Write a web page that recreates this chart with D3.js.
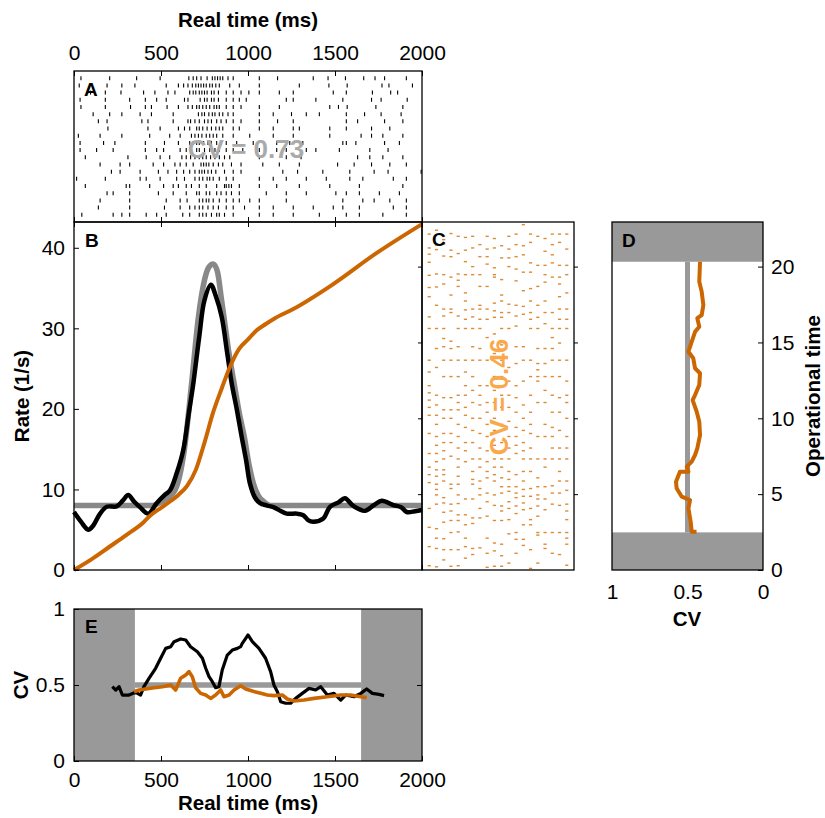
<!DOCTYPE html>
<html>
<head>
<meta charset="utf-8">
<script src="https://cdn.jsdelivr.net/npm/d3@7"></script>
<style>
body { margin: 0; background: #fff; }
svg text { font-family: "Liberation Sans", Arial, Helvetica, sans-serif; }
</style>
</head>
<body>
<svg id="fig" width="825" height="818"></svg>
<script>
// ---- data ----
const timeTicks = [0, 500, 1000, 1500, 2000];
const rateTicks = [0, 10, 20, 30, 40];
const opTicks = [0, 5, 10, 15, 20];
const cvTicks = [0, 0.5, 1];

// A: spike times (ms), one array per trial (top row first)
const trials = [
  [40, 205, 360, 495, 660, 685, 705, 730, 765, 795, 810, 825, 840, 855, 885, 915, 1065, 1170, 1375, 1460, 1560, 1665, 1730, 1785, 1910],
  [30, 190, 275, 350, 530, 600, 630, 655, 680, 700, 715, 730, 745, 760, 780, 795, 815, 835, 895, 950, 1065, 1295, 1465, 1570, 1770, 1810, 1945],
  [95, 180, 270, 400, 465, 540, 580, 665, 685, 700, 720, 735, 750, 765, 790, 805, 830, 875, 915, 960, 1005, 1065, 1180, 1260, 1490, 1565, 1715, 1820, 1860],
  [35, 180, 320, 410, 475, 530, 635, 655, 725, 750, 765, 790, 805, 830, 875, 915, 950, 990, 1220, 1260, 1390, 1545, 1710, 1765, 1915],
  [40, 180, 325, 410, 445, 535, 600, 655, 680, 705, 720, 740, 760, 780, 805, 820, 835, 875, 915, 960, 1065, 1180, 1470, 1520, 1570, 1735, 1890],
  [110, 205, 275, 380, 445, 570, 715, 735, 750, 775, 795, 810, 835, 855, 885, 915, 1065, 1145, 1250, 1335, 1410, 1565, 1670, 1765, 1880],
  [140, 190, 390, 425, 570, 655, 670, 695, 720, 750, 770, 790, 820, 845, 875, 915, 960, 1065, 1170, 1260, 1565, 1630, 1785, 1890],
  [195, 425, 495, 600, 635, 665, 705, 720, 740, 765, 790, 815, 835, 855, 915, 950, 1065, 1145, 1260, 1295, 1470, 1565, 1710, 1815],
  [25, 150, 275, 435, 550, 610, 675, 695, 715, 735, 760, 780, 800, 820, 855, 915, 1010, 1145, 1260, 1470, 1650, 1710, 1775, 1890],
  [35, 170, 235, 410, 520, 600, 665, 685, 705, 720, 745, 770, 790, 820, 845, 875, 935, 1030, 1165, 1240, 1315, 1545, 1565, 1620, 1785, 1870],
  [35, 130, 225, 410, 475, 515, 610, 645, 675, 705, 720, 750, 780, 810, 835, 875, 915, 970, 1065, 1165, 1220, 1335, 1390, 1525, 1700, 1805],
  [65, 310, 415, 495, 550, 620, 645, 670, 695, 720, 740, 760, 785, 810, 835, 865, 895, 1065, 1220, 1305, 1630, 1700, 1775, 1890],
  [150, 265, 320, 455, 515, 580, 610, 645, 685, 730, 745, 760, 775, 800, 830, 855, 905, 960, 1085, 1180, 1295, 1515, 1610, 1710, 1815, 1910],
  [215, 265, 380, 485, 540, 590, 630, 665, 695, 720, 735, 750, 770, 790, 815, 865, 915, 960, 1200, 1285, 1430, 1585, 1725, 1805, 1995],
  [15, 180, 380, 415, 495, 590, 635, 695, 720, 740, 765, 780, 800, 835, 875, 915, 1065, 1145, 1220, 1335, 1450, 1585, 1660, 1835, 1910],
  [65, 300, 320, 435, 515, 570, 600, 645, 675, 720, 760, 820, 865, 875, 890, 905, 950, 1065, 1165, 1295, 1470, 1640, 1890],
  [190, 225, 320, 485, 570, 645, 705, 720, 760, 780, 820, 845, 875, 905, 950, 1105, 1220, 1335, 1505, 1565, 1640, 1755, 1870],
  [150, 320, 530, 610, 650, 720, 740, 760, 775, 800, 835, 875, 915, 950, 1010, 1065, 1220, 1545, 1660, 1725, 1815, 1910],
  [140, 320, 520, 610, 665, 695, 720, 740, 770, 800, 830, 875, 915, 980, 1065, 1145, 1260, 1375, 1490, 1545, 1640, 1835, 1910],
  [45, 225, 275, 320, 415, 475, 530, 625, 665, 720, 740, 760, 790, 820, 835, 865, 915, 1065, 1145, 1260, 1410, 1565, 1640, 1775, 1910]
];

// B: model rate (gray), estimated rate (black), operational time (orange)
const modelT    = [0, 450, 505, 580, 634, 676, 715, 750, 775, 800, 825, 845, 862, 890, 920, 950, 979, 1005, 1031, 1060, 1090, 1130, 2000];
const modelRate = [8, 8, 8.5, 9.9, 14.9, 23.2, 31.4, 36, 37.6, 38, 37, 34, 31.4, 27, 23.2, 19.5, 16.5, 13.2, 10.75, 9.2, 8.5, 8, 8];

const estT    = [0, 40, 82, 110, 150, 188, 245, 280, 312, 345, 379, 427, 475, 520, 552, 590, 628, 660, 686, 720, 750, 787, 815, 849, 880, 906, 935, 964, 990, 1011, 1040, 1069, 1110, 1146, 1222, 1280, 1318, 1345, 1375, 1433, 1471, 1520, 1557, 1605, 1672, 1720, 1768, 1835, 1880, 1912, 1960, 2000];
const estRate = [7.2, 6, 5.0, 5.5, 7, 7.85, 7.9, 8.6, 9.3, 8.5, 7.8, 7.0, 8.3, 9.3, 9.9, 12, 14.9, 19.5, 23.2, 29, 33.5, 35.4, 34, 31.4, 27, 23.2, 20, 16.5, 13.5, 10.75, 9, 8.3, 8, 7.8, 7.0, 7, 6.8, 6.2, 6.0, 6.4, 7.85, 8.4, 8.9, 7.95, 7.36, 8, 8.6, 8.06, 7.8, 7.2, 7.3, 7.45];

const opT   = [0, 100, 200, 300, 400, 437, 500, 550, 600, 650, 700, 750, 800, 850, 900, 950, 1000, 1050, 1100, 1155, 1260, 1471, 1740, 2000];
const opVal = [0, 0.7, 1.5, 2.3, 3.15, 3.57, 4.1, 4.5, 4.95, 5.55, 6.6, 8.4, 10.4, 12.0, 13.5, 14.6, 15.2, 15.8, 16.2, 16.6, 17.2, 18.7, 20.9, 22.8];

// D: CV along operational time
const dOp = [20.32, 19.0, 18.35, 17.47, 16.8, 16.6, 16.04, 15.7, 15.05, 14.39, 13.96, 13.3, 12.97, 12.2, 11.53, 11.2, 10.43, 9.78, 8.9, 8.02, 7.58, 7.14, 6.81, 6.48, 6.48, 5.82, 5.39, 4.83, 4.61, 4.07, 3.18, 2.52, 2.52];
const dCV = [0.417, 0.422, 0.406, 0.395, 0.406, 0.435, 0.422, 0.45, 0.472, 0.494, 0.462, 0.45, 0.417, 0.422, 0.45, 0.466, 0.439, 0.422, 0.417, 0.435, 0.45, 0.472, 0.505, 0.494, 0.55, 0.576, 0.572, 0.538, 0.483, 0.494, 0.479, 0.472, 0.44];
const dBands = [[0, 2.48], [20.32, 22.94]];

// E: CV along real time (black) and rescaled (orange)
const eRealT  = [220, 240, 259, 278, 316, 354, 383, 402, 431, 469, 498, 527, 556, 575, 613, 642, 670, 709, 738, 757, 776, 795, 814, 833, 852, 881, 910, 939, 958, 967, 987, 1000, 1025, 1063, 1101, 1130, 1149, 1169, 1188, 1216, 1245, 1274, 1312, 1351, 1389, 1418, 1456, 1494, 1533, 1561, 1609, 1648, 1682, 1715, 1753, 1782];
const eRealCV = [0.489, 0.467, 0.489, 0.434, 0.434, 0.452, 0.434, 0.489, 0.544, 0.61, 0.676, 0.741, 0.752, 0.785, 0.803, 0.796, 0.752, 0.719, 0.676, 0.61, 0.555, 0.522, 0.482, 0.489, 0.599, 0.697, 0.73, 0.741, 0.752, 0.774, 0.807, 0.829, 0.785, 0.741, 0.676, 0.588, 0.5, 0.456, 0.39, 0.38, 0.38, 0.412, 0.445, 0.478, 0.467, 0.489, 0.434, 0.445, 0.401, 0.434, 0.423, 0.445, 0.474, 0.445, 0.438, 0.43];
const eRescT  = [345, 374, 412, 460, 508, 556, 584, 613, 642, 661, 680, 699, 728, 757, 785, 814, 843, 862, 891, 920, 958, 987, 1025, 1073, 1111, 1149, 1197, 1226, 1264, 1322, 1379, 1456, 1533, 1590, 1648, 1682];
const eRescCV = [0.456, 0.467, 0.474, 0.482, 0.489, 0.5, 0.467, 0.544, 0.566, 0.588, 0.555, 0.482, 0.445, 0.434, 0.412, 0.434, 0.467, 0.423, 0.434, 0.467, 0.495, 0.474, 0.46, 0.445, 0.434, 0.43, 0.434, 0.408, 0.395, 0.401, 0.412, 0.423, 0.434, 0.434, 0.423, 0.417];
const eBands = [[0, 350], [1650, 2000]];

// ---- colours / fonts ----
const orange = "#cc6600";
const bandGray = "#999999";
const tickFont = 21;
const labelFont = 20.5;

const svg = d3.select("#fig");

// scales
const xT = d3.scaleLinear().domain([0, 2000]).range([74, 422]);
const yRow = d3.scaleLinear().domain([0, 21]).range([71, 222]);
const yRate = d3.scaleLinear().domain([0, 43.2]).range([570, 222]);
const yOp = d3.scaleLinear().domain([0, 22.94]).range([570, 222]);
const xCol = d3.scaleLinear().domain([0, 21]).range([422, 574]);
const xCV = d3.scaleLinear().domain([1, 0]).range([612, 763]);
const yCV = d3.scaleLinear().domain([0, 1]).range([761, 609]);
const toOp = d3.scaleLinear().domain(opT).range(opVal);

const fmtInt = d3.format("d");
const fmtCV = d => d === 0.5 ? "0.5" : fmtInt(d);

function styleAxis(g) {
  g.select(".domain").remove();
  g.selectAll(".tick line").attr("stroke", "#000").attr("stroke-width", 1);
  g.selectAll(".tick text").attr("font-size", tickFont).attr("fill", "#000")
    .attr("font-family", '"Liberation Sans", Arial, Helvetica, sans-serif');
}
function addAxis(axis, tx, ty) {
  const g = svg.append("g").attr("transform", `translate(${tx},${ty})`).call(axis);
  styleAxis(g);
  return g;
}
function frame(x0, y0, x1, y1) {
  svg.append("rect").attr("x", x0).attr("y", y0).attr("width", x1 - x0).attr("height", y1 - y0)
    .attr("fill", "none").attr("stroke", "#000").attr("stroke-width", 1.3);
}
function panelLabel(txt, x, y) {
  svg.append("text").attr("x", x).attr("y", y).attr("font-size", 19).attr("font-weight", "bold").text(txt);
}
function boldText(txt, x, y, rot) {
  svg.append("text").attr("transform", `translate(${x},${y})` + (rot ? " rotate(-90)" : ""))
    .attr("text-anchor", "middle").attr("font-size", labelFont).attr("font-weight", "bold").text(txt);
}

// ================= A: raster =================
trials.forEach((spikes, i) => {
  svg.append("g").selectAll("line").data(spikes).join("line")
    .attr("x1", d => xT(d)).attr("x2", d => xT(d))
    .attr("y1", yRow(i + 1) - 2).attr("y2", yRow(i + 1) + 2)
    .attr("stroke", "#000").attr("stroke-width", 1.1);
});
svg.append("text").attr("x", 246).attr("y", 158).attr("text-anchor", "middle")
  .attr("font-size", 26).attr("font-weight", "bold").attr("fill", "#aaaaaa").text("CV = 0.73");
addAxis(d3.axisTop(xT).tickValues(timeTicks).tickSize(-5).tickPadding(11).tickFormat(fmtInt), 0, 71);
addAxis(d3.axisBottom(xT).tickValues(timeTicks).tickSize(-5).tickFormat(""), 0, 222);
frame(74, 71, 422, 222);
panelLabel("A", 84, 96);
boldText("Real time (ms)", 248, 27, false);

// ================= B: rates =================
const lineModel = d3.line().x((d, i) => xT(modelT[i])).y(d => yRate(d)).curve(d3.curveMonotoneX);
const lineEst = d3.line().x((d, i) => xT(estT[i])).y(d => yRate(d)).curve(d3.curveCatmullRom);
const lineOp = d3.line().x((d, i) => xT(opT[i])).y(d => yOp(d)).curve(d3.curveMonotoneX);
svg.append("path").attr("d", lineModel(modelRate)).attr("fill", "none")
  .attr("stroke", "#888888").attr("stroke-width", 5.5);
svg.append("path").attr("d", lineEst(estRate)).attr("fill", "none")
  .attr("stroke", "#000").attr("stroke-width", 4.5).attr("stroke-linejoin", "round");
svg.append("path").attr("d", lineOp(opVal)).attr("fill", "none")
  .attr("stroke", orange).attr("stroke-width", 4);
addAxis(d3.axisLeft(yRate).tickValues(rateTicks).tickSize(-5).tickPadding(9), 74, 0);
addAxis(d3.axisTop(xT).tickValues(timeTicks).tickSize(-5).tickFormat(""), 0, 222);
addAxis(d3.axisBottom(xT).tickValues(timeTicks).tickSize(-5).tickFormat(""), 0, 570);
frame(74, 222, 422, 570);
panelLabel("B", 85, 247);
boldText("Rate (1/s)", 29, 396, true);

// ================= C: rescaled raster =================
trials.forEach((spikes, i) => {
  svg.append("g").selectAll("rect").data(spikes).join("rect")
    .attr("x", xCol(i + 1) - 1.6).attr("width", 3.2)
    .attr("y", d => yOp(toOp(d)) - 0.7).attr("height", 1.4)
    .attr("fill", "#dd8a35");
});
svg.append("text").attr("transform", "translate(508,397) rotate(-90)").attr("text-anchor", "middle")
  .attr("font-size", 26).attr("font-weight", "bold").attr("fill", "#f9a94b").text("CV = 0.46");
addAxis(d3.axisLeft(yOp).tickValues([5, 10, 15, 20]).tickSize(4).tickFormat(""), 422, 0);
addAxis(d3.axisRight(yOp).tickValues([5, 10, 15, 20]).tickSize(4).tickFormat(""), 574, 0);
frame(422, 222, 574, 570);
panelLabel("C", 432, 246);

// ================= D: CV in operational time =================
svg.append("g").selectAll("rect").data(dBands).join("rect")
  .attr("x", 612).attr("width", 151)
  .attr("y", d => yOp(d[1])).attr("height", d => yOp(d[0]) - yOp(d[1]))
  .attr("fill", bandGray);
svg.append("line").attr("x1", xCV(0.5)).attr("x2", xCV(0.5))
  .attr("y1", yOp(dBands[0][1])).attr("y2", yOp(dBands[1][0]))
  .attr("stroke", bandGray).attr("stroke-width", 5);
const lineD = d3.line().x((d, i) => xCV(dCV[i])).y(d => yOp(d));
svg.append("path").attr("d", lineD(dOp)).attr("fill", "none")
  .attr("stroke", orange).attr("stroke-width", 4).attr("stroke-linejoin", "round");
addAxis(d3.axisRight(yOp).tickValues(opTicks).tickSize(-5).tickPadding(8), 763, 0);
addAxis(d3.axisBottom(xCV).tickValues([1, 0.5, 0]).tickSize(0).tickPadding(14).tickFormat(fmtCV), 0, 570);
frame(612, 222, 763, 570);
panelLabel("D", 622, 247);
boldText("CV", 687, 626, false);
boldText("Operational time", 820, 396, true);

// ================= E: CV in real time =================
svg.append("g").selectAll("rect").data(eBands).join("rect")
  .attr("x", d => xT(d[0])).attr("width", d => xT(d[1]) - xT(d[0]))
  .attr("y", 609).attr("height", 152)
  .attr("fill", bandGray);
svg.append("line").attr("x1", xT(eBands[0][1])).attr("x2", xT(eBands[1][0]))
  .attr("y1", yCV(0.5)).attr("y2", yCV(0.5))
  .attr("stroke", bandGray).attr("stroke-width", 5.5);
const lineEReal = d3.line().x((d, i) => xT(eRealT[i])).y(d => yCV(d));
const lineEResc = d3.line().x((d, i) => xT(eRescT[i])).y(d => yCV(d));
svg.append("path").attr("d", lineEReal(eRealCV)).attr("fill", "none")
  .attr("stroke", "#000").attr("stroke-width", 3.2).attr("stroke-linejoin", "round");
svg.append("path").attr("d", lineEResc(eRescCV)).attr("fill", "none")
  .attr("stroke", orange).attr("stroke-width", 3.6).attr("stroke-linejoin", "round");
addAxis(d3.axisLeft(yCV).tickValues(cvTicks).tickSize(-5).tickPadding(9).tickFormat(fmtCV), 74, 0);
addAxis(d3.axisRight(yCV).tickValues([0.5]).tickSize(-5).tickFormat(""), 422, 0);
addAxis(d3.axisBottom(xT).tickValues(timeTicks).tickSize(-5).tickPadding(11).tickFormat(fmtInt), 0, 761);
frame(74, 609, 422, 761);
panelLabel("E", 85, 633);
boldText("CV", 28, 685, true);
boldText("Real time (ms)", 248, 810, false);
</script>
</body>
</html>
